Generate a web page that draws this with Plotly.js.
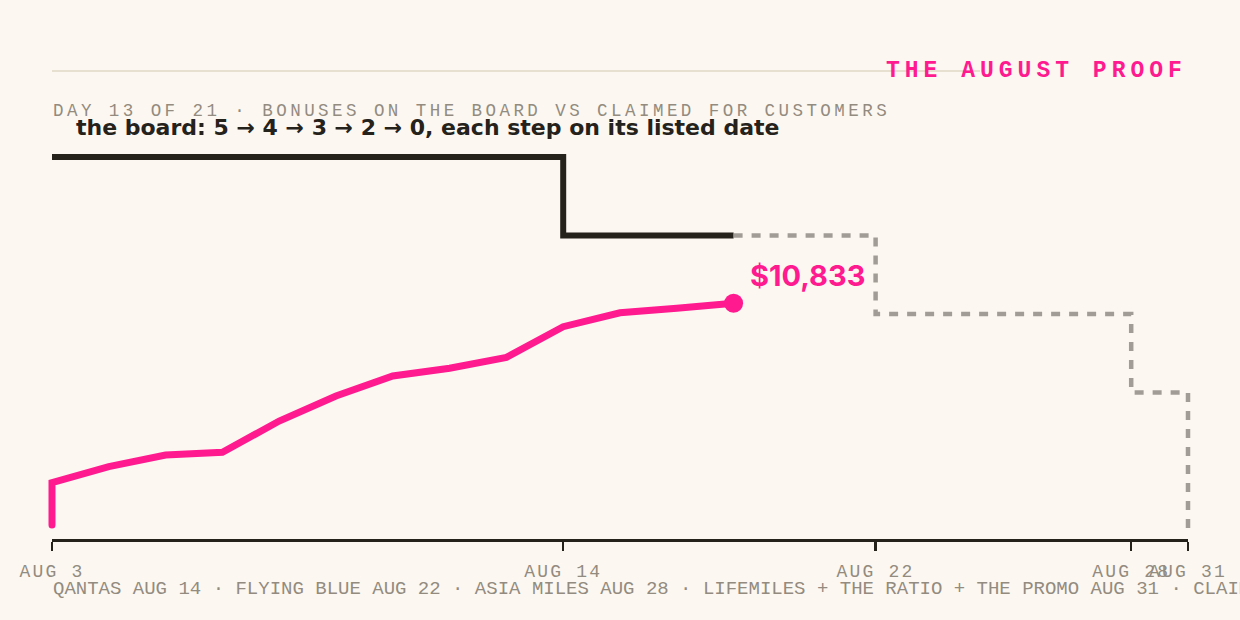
<!DOCTYPE html>
<html><head><meta charset="utf-8">
<script src="https://cdn.plot.ly/plotly-3.0.1.min.js"></script>
<style>
html,body{margin:0;padding:0;background:#fcf8f1;}
#chart{width:1240px;height:620px;}
.x2tick text{letter-spacing:2.2px;}
g.annotation[data-index="0"] text{letter-spacing:5px;}
g.annotation[data-index="1"] text{letter-spacing:3.45px;}
.tracepinkline path.js-line{stroke-linecap:round;}
</style></head><body><div id="chart"></div>
<script>
// ---- data ----
const tickDays = [0, 9, 14.5, 19, 20];
const tickLabels = ["AUG 3", "AUG 14", "AUG 22", "AUG 28", "AUG 31"];
const boardDays = [0, 9, 14.5, 19, 20];
const boardCounts = [5, 4, 3, 2, 0];
const claimedDays = [0, 0, 1, 2, 3, 4, 5, 6, 7, 8, 9, 10, 11, 12];
const claimedUSD = [0, 2070, 2850, 3420, 3550, 5080, 6300, 7280, 7660, 8190, 9690, 10370, 10590, 10833];
const todayIndex = 12;
const titleText = "THE AUGUST PROOF";
const subtitleText = "DAY 13 OF 21 · BONUSES ON THE BOARD VS CLAIMED FOR CUSTOMERS";
const boardNote = "the board: 5 → 4 → 3 → 2 → 0, each step on its listed date";
const footText = "QANTAS AUG 14 · FLYING BLUE AUG 22 · ASIA MILES AUG 28 · LIFEMILES + THE RATIO + THE PROMO AUG 31 · CLAIMED TOTALS ARE CUMULATIVE";

// ---- styles ----
const W = 1240, H = 620;
const BG = "#fcf8f1", PINK = "#ff1a90", INK = "#25211b", DASH = "#a19d96", MUTED = "#938b7f", RULE = "#e7e0d1";
const MONO = "Liberation Mono, DejaVu Sans Mono, monospace";
const SANS = "Inter, Lato, sans-serif";

const axL = 52, axR = 1188, axY = 540, plotTop = 140, plotBot = 530;
const pxPerDay = (axR - axL) / (tickDays[tickDays.length - 1] - tickDays[0]);

function boardAt(d) { let v = boardCounts[0]; for (let i = 0; i < boardDays.length; i++) if (boardDays[i] <= d) v = boardCounts[i]; return v; }
const solidX = [], solidY = [], dashX = [todayIndex], dashY = [boardAt(todayIndex)];
boardDays.forEach((d, i) => { if (d <= todayIndex) { solidX.push(d); solidY.push(boardCounts[i]); } else { dashX.push(d); dashY.push(boardCounts[i]); } });
solidX.push(todayIndex); solidY.push(boardAt(todayIndex));

const lastUSD = claimedUSD[claimedUSD.length - 1];
const lastDay = claimedDays[claimedDays.length - 1];

const traces = [
  { x: [], y: [], xaxis: "x2", yaxis: "y", mode: "lines", showlegend: false, hoverinfo: "skip" },
  { x: solidX, y: solidY, mode: "lines", line: { shape: "hv", color: INK, width: 6 }, showlegend: false },
  { x: dashX, y: dashY, mode: "lines", line: { shape: "hv", color: DASH, width: 4.5, dash: "9px,9px" }, showlegend: false },
  { uid: "pinkline", x: claimedDays, y: claimedUSD, yaxis: "y2", mode: "lines", line: { color: PINK, width: 7 }, showlegend: false },
  { x: [lastDay], y: [lastUSD], yaxis: "y2", mode: "markers", marker: { color: PINK, size: 19 }, showlegend: false, cliponaxis: false }
];

const fy = p => (H - p) / H, fx = p => p / W;

const layout = {
  width: W, height: H,
  margin: { l: 0, r: 0, t: 0, b: 0 },
  paper_bgcolor: BG, plot_bgcolor: "rgba(0,0,0,0)",
  showlegend: false, hovermode: false,
  xaxis: { domain: [0, 1], range: [-axL / pxPerDay, (W - axL) / pxPerDay], visible: false, fixedrange: true },
  xaxis2: {
    domain: [fx(axL), fx(axR)], range: [tickDays[0], tickDays[tickDays.length - 1]],
    anchor: "free", position: fy(axY),
    tickmode: "array", tickvals: tickDays, ticktext: tickLabels, tickangle: 0,
    ticks: "outside", ticklen: 9, tickwidth: 2.5, tickcolor: INK,
    showline: true, linecolor: INK, linewidth: 2.5, showgrid: false, zeroline: false,
    tickfont: { family: MONO, size: 18, color: MUTED }, ticklabelstandoff: 5
  },
  yaxis: { domain: [fy(plotBot), fy(plotTop)], range: [0.248, 5.217], visible: false, fixedrange: true },
  yaxis2: { overlaying: "y", anchor: "x", range: [-244, 18812], visible: false, fixedrange: true },
  shapes: [
    { type: "line", xref: "paper", yref: "paper", x0: fx(52), x1: fx(980), y0: fy(71), y1: fy(71), line: { color: RULE, width: 2 } }
  ],
  annotations: [
    { text: titleText, xref: "paper", yref: "paper", x: fx(884), y: fy(71), xanchor: "left", yanchor: "middle", align: "left", showarrow: false,
      font: { family: MONO, size: 23, color: PINK, weight: 700 } },
    { text: subtitleText, xref: "paper", yref: "paper", x: fx(51), y: fy(111), xanchor: "left", yanchor: "middle", align: "left", showarrow: false,
      font: { family: MONO, size: 17.5, color: MUTED } },
    { text: boardNote, xref: "paper", yref: "paper", x: fx(74), y: fy(128), xanchor: "left", yanchor: "middle", showarrow: false,
      font: { family: "DejaVu Sans, sans-serif", size: 22, color: INK, weight: 700 } },
    { text: "$" + lastUSD.toLocaleString("en-US"), xref: "x", yref: "y2", x: lastDay, y: lastUSD, xanchor: "left", yanchor: "middle",
      xshift: 14, yshift: 28, showarrow: false, font: { family: SANS, size: 29, color: PINK, weight: 700 } },
    { text: footText, xref: "paper", yref: "paper", x: fx(51), y: fy(589), xanchor: "left", yanchor: "middle", showarrow: false,
      font: { family: MONO, size: 19, color: MUTED } }
  ]
};

Plotly.newPlot("chart", traces, layout, { staticPlot: true, displayModeBar: false });
</script></body></html>
